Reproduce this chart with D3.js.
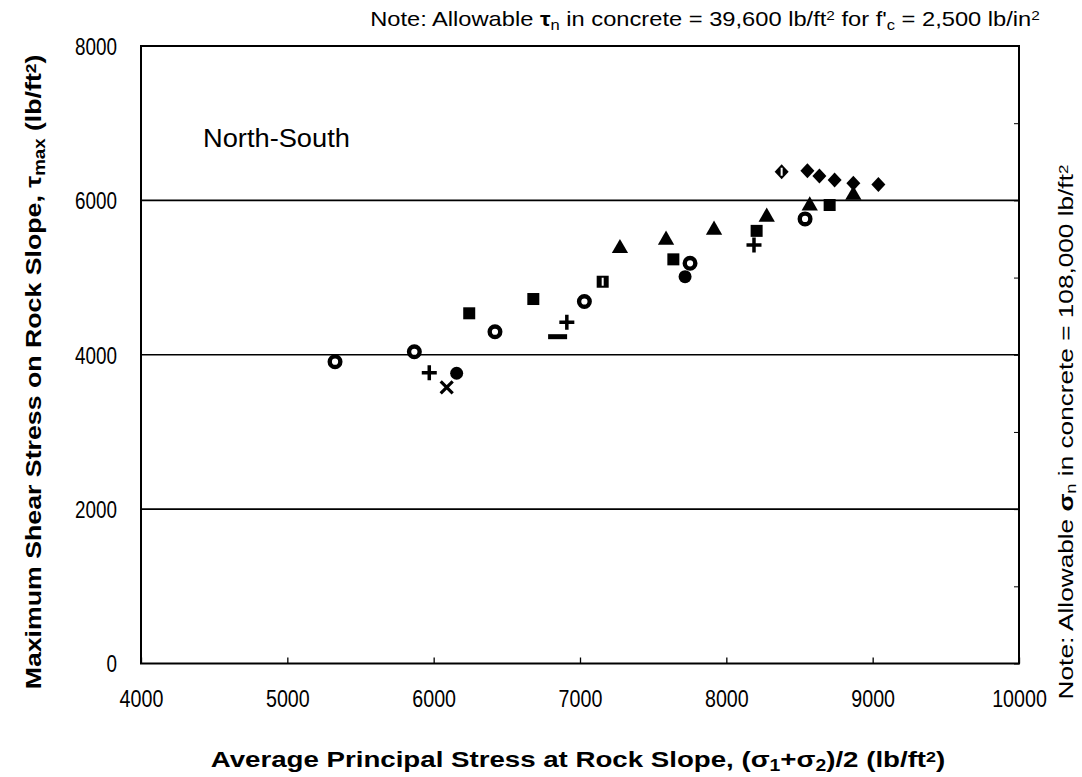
<!DOCTYPE html>
<html><head><meta charset="utf-8">
<script src="https://cdn.jsdelivr.net/npm/d3@7"></script>
<style>
html,body{margin:0;padding:0;background:#fff;}
svg{display:block;font-family:"Liberation Sans",Arial,sans-serif;}
</style></head>
<body><svg id="chart" width="1082" height="777"></svg>
<script>
// ---- data ----
const xTicks = [4000,5000,6000,7000,8000,9000,10000];
const yTicks = [0,2000,4000,6000,8000];
const gridValues = [2000,4000,6000];
const openCircles = [[5326,3910],[5868,4039],[6419,4298],[7030,4690],[7752,5185],[8538,5760]];
const filledCircles = [[6157,3760],[7718,5011]];
const squares = [[6243,4537],[6681,4722],[7638,5236],[8207,5605],[8706,5940]];
const markedSquares = [[7155,4946]];
const triangles = [[7273,5379],[7588,5487],[7916,5616],[8276,5785],[8570,5930],[8868,6069]];
const diamonds = [[8554,6385],[8636,6316],[8740,6264],[8868,6221],[9039,6205]];
const markedDiamonds = [[8378,6371]];
const plusMarks = [[5970,3767],[6910,4420],[8189,5422]];
const crossMarks = [[6089,3578]];
const dashMarks = [[6847,4234]];

const svg = d3.select("#chart");
const L=141,R=1019,T=46,B=663.5;
const x = d3.scaleLinear().domain([4000,10000]).range([L,R]);
const y = d3.scaleLinear().domain([0,8000]).range([B,T]);

// gridlines
svg.append("g").selectAll("line").data(gridValues).join("line")
  .attr("x1",L).attr("x2",R).attr("y1",d=>y(d)).attr("y2",d=>y(d))
  .attr("stroke","#000").attr("stroke-width",1.6);

// bottom axis (ticks inward)
const gx = svg.append("g").attr("transform",`translate(0,${B})`)
  .call(d3.axisBottom(x).tickValues(xTicks).tickSize(-6).tickPadding(0).tickFormat(d3.format("d")));
gx.select(".domain").remove();
gx.selectAll("line").attr("stroke","#000").attr("stroke-width",1.3);
gx.selectAll("text").attr("y",0).attr("dy",0).style("font-size","24px").attr("fill","#000")
  .attr("transform","translate(0,43) scale(0.82,1)");

// left axis labels
const gy = svg.append("g").attr("transform",`translate(${L},0)`)
  .call(d3.axisLeft(y).tickValues(yTicks).tickSize(0).tickPadding(0).tickFormat(d3.format("d")));
gy.select(".domain").remove();
gy.selectAll("text").attr("x",0).style("font-size","23px").attr("fill","#000").attr("dy","0.36em")
  .attr("transform","translate(-24,0) scale(0.82,1)");

// right frame minor ticks
const gr = svg.append("g").attr("transform",`translate(${R},0)`)
  .call(d3.axisRight(y).ticks(8).tickSize(-5).tickFormat(""));
gr.select(".domain").remove();
gr.selectAll("line").attr("stroke","#000").attr("stroke-width",1);

// frame
svg.append("rect").attr("x",L).attr("y",T).attr("width",R-L).attr("height",B-T)
  .attr("fill","none").attr("stroke","#000").attr("stroke-width",2);

const g = svg.append("g");
g.selectAll(".oc").data(openCircles).join("circle")
  .attr("cx",d=>x(d[0])).attr("cy",d=>y(d[1])).attr("r",5.3)
  .attr("fill","#fff").attr("stroke","#000").attr("stroke-width",4.4);
g.selectAll(".fc").data(filledCircles).join("circle")
  .attr("cx",d=>x(d[0])).attr("cy",d=>y(d[1])).attr("r",6.5).attr("fill","#000");
g.selectAll(".sq").data(squares.concat(markedSquares)).join("rect")
  .attr("x",d=>x(d[0])-6).attr("y",d=>y(d[1])-6).attr("width",12).attr("height",12).attr("fill","#000");
g.selectAll(".msq").data(markedSquares).join("rect")
  .attr("x",d=>x(d[0])-1).attr("y",d=>y(d[1])-4).attr("width",2).attr("height",8).attr("fill","#fff");
const tri = d3.symbol().type(d3.symbolTriangle).size(115);
g.selectAll(".tr").data(triangles).join("path")
  .attr("d",tri).attr("transform",d=>`translate(${x(d[0])},${y(d[1])})`).attr("fill","#000");
const dia = "M0,-7.5L7,0L0,7.5L-7,0Z";
g.selectAll(".di").data(diamonds.concat(markedDiamonds)).join("path")
  .attr("d",dia).attr("transform",d=>`translate(${x(d[0])},${y(d[1])})`).attr("fill","#000");
g.selectAll(".mdi").data(markedDiamonds).join("rect")
  .attr("x",d=>x(d[0])-1).attr("y",d=>y(d[1])-4).attr("width",2).attr("height",8).attr("fill","#fff");
g.selectAll(".pl").data(plusMarks).join("path")
  .attr("d","M-7.5,0H7.5M0,-7.5V7.5").attr("transform",d=>`translate(${x(d[0])},${y(d[1])})`)
  .attr("stroke","#000").attr("stroke-width",3.5).attr("fill","none");
g.selectAll(".cx").data(crossMarks).join("path")
  .attr("d","M-6,-6L6,6M6,-6L-6,6").attr("transform",d=>`translate(${x(d[0])},${y(d[1])})`)
  .attr("stroke","#000").attr("stroke-width",3.2).attr("fill","none");
g.selectAll(".da").data(dashMarks).join("rect")
  .attr("x",d=>x(d[0])-9.5).attr("y",d=>y(d[1])-2.5).attr("width",19).attr("height",5).attr("fill","#000");

// ---- text helpers ----
function rich(sel, parts){
  parts.forEach(p=>{
    const t = sel.append("tspan").text(p[0]);
    if(p[1]==="sub"){t.attr("baseline-shift","-25%").attr("font-size","70%");}
    if(p[1]==="sup"){t.attr("baseline-shift","38%").attr("font-size","65%");}
    if(p[1]==="b"){t.attr("font-weight","bold");}
  });
}
function fit(sel, tx, ty, rot, target){
  const w = sel.node().getBBox().width;
  const s = target / w;
  sel.attr("transform", `translate(${tx},${ty}) rotate(${rot}) scale(${s},1)`);
}

// top note
const tn = svg.append("text").attr("x",0).attr("y",0).attr("text-anchor","middle").attr("font-size",21);
rich(tn,[["Note: Allowable "],["τ","b"],["n","sub"],[" in concrete = 39,600  lb/ft"],["2","sup"],[" for f'"],["c","sub"],[" = 2,500  lb/in"],["2","sup"]]);
fit(tn,705,26,0,670);

// right note
const rn = svg.append("text").attr("x",0).attr("y",0).attr("text-anchor","middle").attr("font-size",20);
rich(rn,[["Note: Allowable "],["σ","b"],["n","sub"],[" in concrete = 108,000  lb/ft"],["2","sup"]]);
fit(rn,1073,432,-90,535);

// North-South
const ns = svg.append("text").attr("x",0).attr("y",0).attr("font-size",25).text("North-South");
fit(ns,203,147,0,147);

// y title
const yt = svg.append("text").attr("x",0).attr("y",0).attr("text-anchor","middle")
  .attr("font-size",22.5).attr("font-weight","bold");
rich(yt,[["Maximum Shear Stress on Rock Slope,  τ"],["max","sub"],["  (lb/ft"],["2","sup"],[")"]]);
fit(yt,41,372,-90,635);

// x title
const xt = svg.append("text").attr("x",0).attr("y",0).attr("text-anchor","middle")
  .attr("font-size",22.5).attr("font-weight","bold");
rich(xt,[["Average Principal Stress at Rock Slope, (σ"],["1","sub"],["+σ"],["2","sub"],[")/2  (lb/ft"],["2","sup"],[")"]]);
fit(xt,578,767,0,735);
</script></body></html>
